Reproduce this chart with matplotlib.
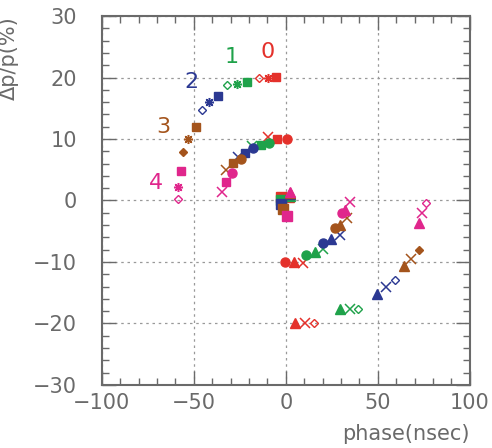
import matplotlib
matplotlib.use("Agg")
import matplotlib.pyplot as plt
from matplotlib.ticker import MultipleLocator

# groups 0..4
labels = ["0", "1", "2", "3", "4"]
colors = ["#e4312b", "#1fa24a", "#2b3892", "#a4541c", "#e0268c"]
label_x = [-9.7, -29.2, -51.4, -66.6, -70.3]
label_y = [24.1, 23.3, 19.3, 12.0, 2.8]

# upper arc (~20 %)
sq20_x = [-5.4, -21.1, -36.8, -48.7, -56.8]
sq20_y = [20.1, 19.2, 17.0, 12.0, 4.8]
st20_x = [-9.7, -26.5, -41.7, -53.0, -58.4]
st20_y = [20.0, 18.9, 16.0, 10.0, 2.2]
di20_x = [-14.6, -32.0, -45.5, -55.7, -58.4]
di20_y = [20.0, 18.8, 14.7, 7.9, 0.2]

# middle arc (~10 %)
ci10_x = [0.5, -9.2, -17.9, -24.4, -29.2]
ci10_y = [10.0, 9.3, 8.5, 6.7, 4.5]
sq10_x = [-4.9, -13.5, -22.2, -28.7, -32.5]
sq10_y = [10.0, 9.0, 7.7, 6.1, 3.0]
xx10_x = [-9.7, -18.4, -26.0, -32.5, -34.6]
xx10_y = [10.3, 8.9, 7.0, 5.0, 1.4]

# centre cluster
c_sq_x = [-2.5, -2.5, -2.5, -1.5, 0.5]
c_sq_y = [0.6, 0.0, -0.6, -1.4, -2.5]
c_tr_x = [1.5, 2.0, 2.5, 2.5, 2.5]
c_tr_y = [0.5, 0.8, 1.0, 1.2, 1.4]

# lower arc (~-10 %)
ci_m10_x = [-0.5, 10.8, 20.0, 26.5, 30.3]
ci_m10_y = [-10.0, -8.9, -7.0, -4.5, -2.0]
tr_m10_x = [4.3, 15.7, 24.4, 29.2, 32.0]
tr_m10_y = [-10.0, -8.4, -6.3, -4.0, -1.5]
xx_m10_x = [9.2, 20.0, 29.2, 33.5, 34.6]
xx_m10_y = [-10.2, -7.9, -5.6, -2.8, -0.2]

# outer rows (~-20 %)
tr_m20_x = [4.9, 29.2, 49.8, 64.4, 72.5]
tr_m20_y = [-20.0, -17.7, -15.2, -10.6, -3.7]
xx_m20_x = [10.3, 34.6, 54.6, 68.0, 74.2]
xx_m20_y = [-20.0, -17.7, -14.0, -9.5, -2.0]
di_m20_x = [15.2, 39.0, 59.5, 72.5, 76.3]
di_m20_y = [-20.0, -17.7, -13.0, -8.0, -0.4]

gray = "#6a6a6a"
plt.rcParams["font.family"] = "DejaVu Sans"

fig = plt.figure(figsize=(4.92, 4.48), dpi=100)
ax = fig.add_axes([0.207, 0.141, 0.748, 0.823])

star = (8, 2, 0)
for i, c in enumerate(colors):
    ax.plot(sq20_x[i], sq20_y[i], "s", color=c, ms=6, mec=c)
    ax.plot(st20_x[i], st20_y[i], marker=star, color=c, ms=6.5, mew=1.1, ls="none")
    dfill = c if i == 3 else "none"
    ax.plot(di20_x[i], di20_y[i], "D", mfc=dfill, mec=c, ms=4, mew=1.0)

    ax.plot(ci10_x[i], ci10_y[i], "o", color=c, ms=6.5)
    ax.plot(sq10_x[i], sq10_y[i], "s", color=c, ms=6)
    ax.plot(xx10_x[i], xx10_y[i], "x", color=c, ms=6.5, mew=1.1)

    ax.plot(c_sq_x[i], c_sq_y[i], "s", color=c, ms=6.5)
    ax.plot(c_tr_x[i], c_tr_y[i], "^", color=c, ms=7)

    ax.plot(ci_m10_x[i], ci_m10_y[i], "o", color=c, ms=6.5)
    ax.plot(tr_m10_x[i], tr_m10_y[i], "^", color=c, ms=6.5)
    ax.plot(xx_m10_x[i], xx_m10_y[i], "x", color=c, ms=6.5, mew=1.1)

    ax.plot(tr_m20_x[i], tr_m20_y[i], "^", color=c, ms=6.5)
    ax.plot(xx_m20_x[i], xx_m20_y[i], "x", color=c, ms=6.5, mew=1.1)
    ax.plot(di_m20_x[i], di_m20_y[i], "D", mfc=dfill, mec=c, ms=4.5, mew=1.0)

    ax.text(label_x[i], label_y[i], labels[i], color=c, fontsize=16,
            ha="center", va="center")

ax.set_xlim(-100, 100)
ax.set_ylim(-30, 30)
ax.xaxis.set_major_locator(MultipleLocator(50))
ax.xaxis.set_minor_locator(MultipleLocator(10))
ax.yaxis.set_major_locator(MultipleLocator(10))
ax.yaxis.set_minor_locator(MultipleLocator(2))
ax.tick_params(which="both", direction="in", top=True, right=True,
               colors=gray, labelcolor=gray, labelsize=15, width=1.0)
ax.tick_params(which="major", length=10)
ax.tick_params(which="minor", length=5)
ax.tick_params(axis="y", pad=18)
ax.tick_params(axis="x", pad=6)
for s in ax.spines.values():
    s.set_color(gray)
    s.set_linewidth(1.5)
ax.grid(True, which="major", color="#999999", ls=(0, (2, 3)), lw=0.9)

ax.set_xlabel("phase(nsec)", fontsize=15, color=gray, loc="right", labelpad=8)
ax.set_ylabel("\u0394p/p(%)", fontsize=15, color=gray, loc="top", labelpad=10)

fig.savefig("out.png", dpi=100)
